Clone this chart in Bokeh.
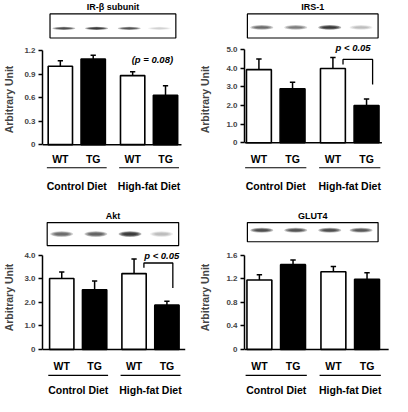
from bokeh.plotting import figure
from bokeh.layouts import gridplot
from bokeh.models import Range1d, FixedTicker
from bokeh.core.properties import value
from bokeh.embed import file_html
from bokeh.resources import INLINE

# ---------------- data ----------------
genotypes = ["WT", "TG", "WT", "TG"]
diets = ["Control Diet", "High-fat Diet"]

ir_beta_mean = [1.00, 1.09, 0.88, 0.63]
ir_beta_err = [0.07, 0.05, 0.05, 0.12]
ir_beta_ticks = [0, 0.3, 0.6, 0.9, 1.2]
ir_beta_tick_labels = ["0", "0.3", "0.6", "0.9", "1.2"]
ir_beta_bands = [0.80, 0.95, 0.75, 0.15]

irs1_mean = [3.92, 2.90, 3.98, 2.00]
irs1_err = [0.57, 0.34, 0.59, 0.34]
irs1_ticks = [0, 1, 2, 3, 4, 5]
irs1_tick_labels = ["0", "1.0", "2.0", "3.0", "4.0", "5.0"]
irs1_bands = [0.60, 0.50, 0.98, 0.22]
irs1_bracket = [4.20, 4.47, 3.12]

akt_mean = [3.01, 2.53, 3.22, 1.88]
akt_err = [0.28, 0.37, 0.62, 0.17]
akt_ticks = [0, 1, 2, 3, 4]
akt_tick_labels = ["0", "1.0", "2.0", "3.0", "4.0"]
akt_bands = [0.60, 0.65, 0.95, 0.22]
akt_bracket = [3.47, 3.67, 2.61]

glut4_mean = [1.18, 1.44, 1.32, 1.19]
glut4_err = [0.09, 0.08, 0.09, 0.11]
glut4_ticks = [0, 0.4, 0.8, 1.2, 1.6]
glut4_tick_labels = ["0", "0.4", "0.8", "1.2", "1.6"]
glut4_bands = [0.80, 0.75, 0.80, 0.72]

positions = [1.0, 2.0, 3.2, 4.2]
bar_colors = ["white", "black", "white", "black"]

FONT = value("Liberation Sans")
W, H = 196, 198
S = W / 204.0


def make_panel(title, means, errs, ticks, tick_labels, bands, g,
               ptext=None, ptext_xy=None, bracket=None):
    unit = 35.0
    ox = g["x_first"] - unit
    ymax = ticks[-1]

    def X(px):
        return (px - ox) / unit

    def Y(py):
        return ymax * (g["y0"] - py) / (g["y0"] - g["ytop"])

    p = figure(width=W, height=H, output_backend="svg", toolbar_location=None,
               x_axis_location=None,
               x_range=Range1d(X(g["axis"]), X(204)),
               y_range=Range1d(Y(206), Y(0)),
               min_border_left=round(g["axis"] * S), min_border_right=0,
               min_border_top=0, min_border_bottom=0)
    p.outline_line_color = None
    p.xgrid.visible = False
    p.ygrid.visible = False
    p.background_fill_color = "white"
    p.border_fill_color = "white"

    ax = p.yaxis[0]
    ax.bounds = (0, ymax)
    ax.ticker = FixedTicker(ticks=ticks)
    ax.major_label_overrides = {float(t): l for t, l in zip(ticks, tick_labels)}
    ax.axis_line_width = 1.5
    ax.major_tick_line_width = 1.5
    ax.major_tick_out = 4
    ax.major_tick_in = 0
    ax.minor_tick_out = 0
    ax.minor_tick_in = 0
    ax.major_label_standoff = 3
    ax.major_label_text_font = "Liberation Sans"
    ax.major_label_text_font_style = "bold"
    ax.major_label_text_font_size = "8px"
    ax.axis_label = "Arbitrary Unit"
    ax.axis_label_text_font = "Liberation Sans"
    ax.axis_label_text_font_style = "bold"
    ax.axis_label_text_font_size = "10.5px"
    ax.axis_label_standoff = g["lab_standoff"]

    # x axis line
    p.segment(x0=[X(g["axis"])], y0=[0], x1=[X(g["xend"])], y1=[0],
              line_color="black", line_width=1.5)

    # bars
    p.vbar(x=positions, top=means, width=0.74, fill_color=bar_colors,
           line_color="black", line_width=1.6)
    tops = [m + e for m, e in zip(means, errs)]
    p.segment(x0=positions, y0=means, x1=positions, y1=tops,
              line_color="black", line_width=1.5)
    p.segment(x0=[x - 0.08 for x in positions], y0=tops,
              x1=[x + 0.08 for x in positions], y1=tops,
              line_color="black", line_width=1.5)

    # genotype labels
    p.text(x=positions, y=[Y(g["wt"])] * 4, text=genotypes,
           text_font=FONT, text_font_style="bold", text_font_size="10.5px",
           text_align="center", text_baseline="middle", text_color="black")
    # diet underlines and labels
    centers = [(positions[0] + positions[1]) / 2, (positions[2] + positions[3]) / 2]
    half = 0.91
    p.segment(x0=[c - half for c in centers], y0=[Y(g["ul"])] * 2,
              x1=[c + half for c in centers], y1=[Y(g["ul"])] * 2,
              line_color="black", line_width=1.2)
    p.text(x=centers, y=[Y(g["grp"])] * 2, text=diets,
           text_font=FONT, text_font_style="bold", text_font_size="10.5px",
           text_align="center", text_baseline="middle", text_color="black")

    # blot box
    bx0, bx1, by0, by1 = g["box"]
    p.quad(left=[X(bx0)], right=[X(bx1)], top=[Y(by0)], bottom=[Y(by1)],
           fill_color="white", line_color="black", line_width=1.2)
    lanes = [0.11, 0.37, 0.63, 0.87]
    lx = [X(bx0 + f * (bx1 - bx0)) for f in lanes]
    ly = [Y(g["band_y"])] * 4
    for k in range(4):
        p.ellipse(x=lx, y=ly, width=24 * S * (1 - 0.14 * k), width_units="screen",
                  height=g["band_h"] * S * (1 - 0.2 * k), height_units="screen",
                  fill_color="black", fill_alpha=[0.32 * b for b in bands],
                  line_color=None)
    # title
    p.text(x=[X((bx0 + bx1) / 2)], y=[Y(g["title"])], text=[title],
           text_font=FONT, text_font_style="bold", text_font_size="9px",
           text_align="center", text_baseline="middle", text_color="black")

    if bracket is not None:
        xl = positions[2] + 0.3
        xr = positions[3] + 0.18
        p.line(x=[xl, xl, xr, xr], y=[bracket[0], bracket[1], bracket[1], bracket[2]],
               line_color="black", line_width=1.3)
    if ptext is not None:
        p.text(x=[ptext_xy[0]], y=[ptext_xy[1]], text=[ptext],
               text_font=FONT, text_font_style="bold italic", text_font_size="9.5px",
               text_align="center", text_baseline="middle", text_color="black")
    return p


g1 = dict(axis=40, x_first=59, y0=150, ytop=52, title=7, box=(48, 182, 14, 39),
          band_y=29, band_h=3.5, wt=165, ul=174, grp=193, xend=188, lab_standoff=6)
g2 = dict(axis=50, x_first=65, y0=148, ytop=51, title=7, box=(53, 189, 14, 39),
          band_y=28, band_h=5, wt=165, ul=174, grp=193, xend=193, lab_standoff=12)
g3 = dict(axis=40, x_first=60.5, y0=157, ytop=59, title=18, box=(45, 185, 25, 49),
          band_y=37, band_h=6, wt=174, ul=184, grp=199, xend=192, lab_standoff=6)
g4 = dict(axis=50, x_first=65.5, y0=157, ytop=59, title=18, box=(53, 189, 25, 45),
          band_y=33, band_h=5, wt=174, ul=184, grp=199, xend=200, lab_standoff=12)

p1 = make_panel("IR-β subunit", ir_beta_mean, ir_beta_err, ir_beta_ticks,
                ir_beta_tick_labels, ir_beta_bands, g1,
                ptext="(p = 0.08)", ptext_xy=((157 - 24) / 35.0, 1.08))
p2 = make_panel("IRS-1", irs1_mean, irs1_err, irs1_ticks, irs1_tick_labels,
                irs1_bands, g2, ptext="p < 0.05",
                ptext_xy=((163 - 30) / 35.0, 5.1), bracket=irs1_bracket)
p3 = make_panel("Akt", akt_mean, akt_err, akt_ticks, akt_tick_labels,
                akt_bands, g3, ptext="p < 0.05",
                ptext_xy=((167 - 25.5) / 35.0, 4.0), bracket=akt_bracket)
p4 = make_panel("GLUT4", glut4_mean, glut4_err, glut4_ticks, glut4_tick_labels,
                glut4_bands, g4)

grid = gridplot([[p1, p2], [p3, p4]], toolbar_location=None)
open("out.html", "w").write(file_html(grid, INLINE))
